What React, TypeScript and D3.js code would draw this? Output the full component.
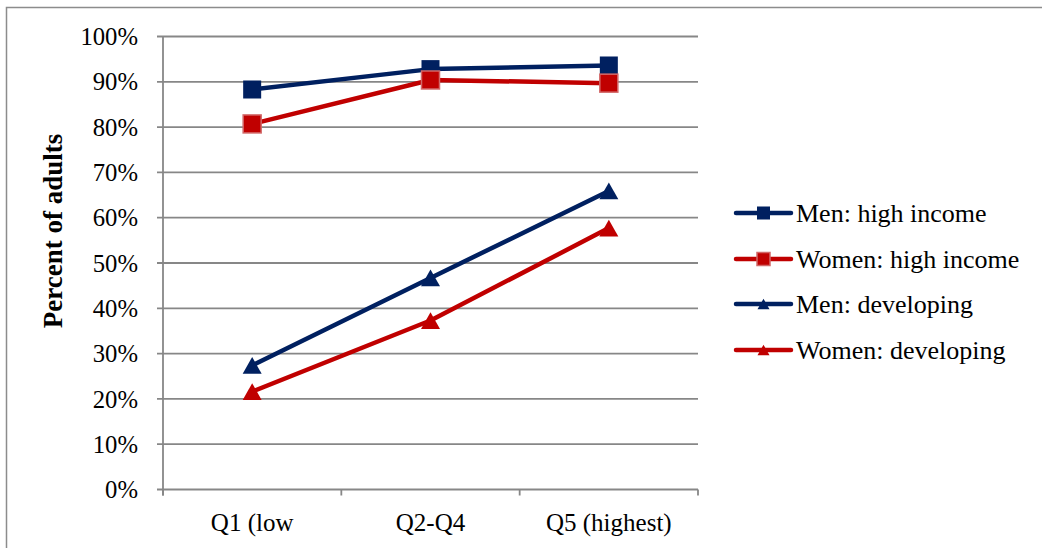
import React from "react";
import * as d3 from "d3";

const categories = ["Q1 (low", "Q2-Q4", "Q5 (highest)"];
const menHigh = [88.3, 92.8, 93.6];
const womenHigh = [80.7, 90.4, 89.7];
const menDev = [27.4, 46.7, 65.9];
const womenDev = [21.6, 37.3, 57.7];
const yTicks = [0, 10, 20, 30, 40, 50, 60, 70, 80, 90, 100];

const NAVY = "#002060";
const RED = "#C00000";

type Series = {
  name: string;
  values: number[];
  color: string;
  marker: "square" | "triangle";
  markerStroke?: string;
};

const series: Series[] = [
  { name: "Men: high income", values: menHigh, color: NAVY, marker: "square" },
  { name: "Women: high income", values: womenHigh, color: RED, marker: "square", markerStroke: "#D26868" },
  { name: "Men: developing", values: menDev, color: NAVY, marker: "triangle" },
  { name: "Women: developing", values: womenDev, color: RED, marker: "triangle" },
];

const FONT = '"Times New Roman", "Liberation Serif", "DejaVu Serif", serif';
const textStyle = { fontFamily: FONT };

function Marker({ s, x, y, size }: { s: Series; x: number; y: number; size: number }) {
  if (s.marker === "square") {
    const h = size / 2;
    return (
      <rect
        x={x - h}
        y={y - h}
        width={size}
        height={size}
        fill={s.color}
        stroke={s.markerStroke ?? "none"}
        strokeWidth={s.markerStroke ? 1.5 : 0}
      />
    );
  }
  const w = size;
  const ht = size * 0.88;
  const p = `M${x},${y - ht / 2} L${x + w / 2},${y + ht / 2} L${x - w / 2},${y + ht / 2} Z`;
  return <path d={p} fill={s.color} />;
}

export default function App() {
  const W = 1042;
  const H = 548;
  const plot = { left: 163, right: 698, top: 36.5, bottom: 489.5 };

  const x = d3.scaleBand<string>().domain(categories).range([plot.left, plot.right]);
  const y = d3.scaleLinear().domain([0, 100]).range([plot.bottom, plot.top]);
  const cx = (c: string) => (x(c) ?? 0) + x.bandwidth() / 2;

  const line = d3
    .line<number>()
    .x((_, i) => cx(categories[i]))
    .y((v) => y(v));

  const xTickPositions = [plot.left, ...categories.map((c) => (x(c) ?? 0) + x.bandwidth())];

  const legendX1 = 736;
  const legendX2 = 791;
  const legendRows = [213, 259, 304, 350];

  return (
    <svg
      width={W}
      height={H}
      style={{ position: "absolute", left: 0, top: 0, background: "#fff" }}
    >
      <rect x={0} y={0} width={W} height={H} fill="#fff" />
      {/* chart area border */}
      <rect x={6.5} y={7.5} width={W + 10} height={H + 10} fill="none" stroke="#8c8c8c" strokeWidth={1.5} />

      {/* gridlines */}
      {yTicks.map((t) => (
        <line key={t} x1={plot.left - 6} x2={plot.right} y1={y(t)} y2={y(t)} stroke="#878787" strokeWidth={1.8} />
      ))}
      {/* y axis line */}
      <line x1={plot.left} x2={plot.left} y1={plot.top} y2={plot.bottom + 6} stroke="#878787" strokeWidth={1.8} />
      {/* x ticks */}
      {xTickPositions.map((p, i) => (
        <line key={i} x1={p} x2={p} y1={plot.bottom} y2={plot.bottom + 6} stroke="#878787" strokeWidth={1.8} />
      ))}

      {/* y tick labels */}
      {yTicks.map((t) => (
        <text key={t} x={138} y={y(t)} dy="0.35em" textAnchor="end" fontSize={24.7} fill="#000" style={textStyle}>
          {t}%
        </text>
      ))}

      {/* x tick labels */}
      {categories.map((c) => (
        <text key={c} x={cx(c)} y={531} textAnchor="middle" fontSize={25} fill="#000" style={textStyle}>
          {c}
        </text>
      ))}

      {/* y axis title */}
      <text
        transform={`translate(62,231) rotate(-90)`}
        textAnchor="middle"
        fontSize={27}
        fontWeight="bold"
        fill="#000"
        style={textStyle}
      >
        Percent of adults
      </text>

      {/* series */}
      {series.map((s) => (
        <g key={s.name}>
          <path d={line(s.values) ?? ""} fill="none" stroke={s.color} strokeWidth={4.5} strokeLinejoin="round" />
          {s.values.map((v, i) => (
            <Marker key={i} s={s} x={cx(categories[i])} y={y(v)} size={s.marker === "square" ? 18 : 19} />
          ))}
        </g>
      ))}

      {/* legend */}
      {series.map((s, i) => {
        const ly = legendRows[i];
        return (
          <g key={s.name}>
            <line x1={legendX1} x2={legendX2} y1={ly} y2={ly} stroke={s.color} strokeWidth={4.5} strokeLinecap="round" />
            <Marker s={s} x={(legendX1 + legendX2) / 2} y={ly} size={s.marker === "square" ? 13 : 12} />
            <text x={796} y={ly} dy="0.33em" fontSize={26} fill="#000" style={textStyle}>
              {s.name}
            </text>
          </g>
        );
      })}
    </svg>
  );
}
